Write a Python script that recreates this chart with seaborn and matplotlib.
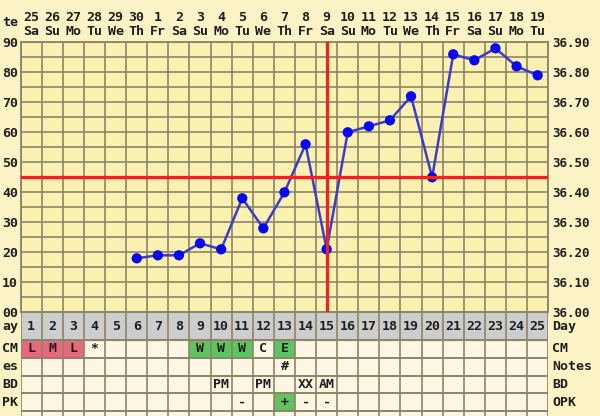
import numpy as np
import pandas as pd
import matplotlib
matplotlib.use('Agg')
import matplotlib.pyplot as plt
from matplotlib.transforms import blended_transform_factory
import seaborn as sns

# Chart data
cycle_days = list(range(1, 26))
dates = [25, 26, 27, 28, 29, 30, 1, 2, 3, 4, 5, 6, 7, 8, 9, 10, 11, 12, 13, 14, 15, 16, 17, 18, 19]
weekdays = ['Sa', 'Su', 'Mo', 'Tu', 'We', 'Th', 'Fr', 'Sa', 'Su', 'Mo', 'Tu', 'We', 'Th',
            'Fr', 'Sa', 'Su', 'Mo', 'Tu', 'We', 'Th', 'Fr', 'Sa', 'Su', 'Mo', 'Tu']
temps = [np.nan, np.nan, np.nan, np.nan, np.nan,
         36.18, 36.19, 36.19, 36.23, 36.21, 36.38, 36.28, 36.40, 36.56, 36.21,
         36.60, 36.62, 36.64, 36.72, 36.45, 36.86, 36.84, 36.88, 36.82, 36.79]
coverline = 36.45
ovulation_day = 15
temp_ticks = [36.00, 36.10, 36.20, 36.30, 36.40, 36.50, 36.60, 36.70, 36.80, 36.90]

cm_days = [1, 2, 3, 4, 9, 10, 11, 12, 13]
cm_marks = ['L', 'M', 'L', '*', 'W', 'W', 'W', 'C', 'E']
notes_days = [13]
notes_marks = ['#']
bd_days = [10, 12, 14, 15]
bd_marks = ['PM', 'PM', 'XX', 'AM']
opk_days = [11, 13, 14, 15]
opk_marks = ['-', '+', '-', '-']

row_names = ['Day', 'CM', 'Notes', 'BD', 'OPK']
# the left edge of the chart is cropped, only the ends of these labels show
row_names_left = ['ay', 'CM', 'es', 'BD', 'PK']

# colours
bg = '#FBF3C6'
plot_bg = '#FAF0B0'
cell_bg = '#FDF6E2'
grid_col = '#8C8468'
txt = '#1E1E1E'
pink = '#E8687E'
green = '#62C262'
mark_colors = {'L': pink, 'M': pink, 'W': green, 'E': green, '+': green}

plt.rcParams['font.family'] = ['DejaVu Sans Mono']
plt.rcParams['font.weight'] = 'bold'
plt.rcParams['font.size'] = 9.5

df = pd.DataFrame({'day': cycle_days, 'temp': temps})

W, H = 600, 416
fig = plt.figure(figsize=(W / 100, H / 100), dpi=100, facecolor=bg)

left, right, top, bottom = 20.7, 548.2, 42.3, 312.3
ax = fig.add_axes([left / W, 1 - bottom / H, (right - left) / W, (bottom - top) / H])
ax.set_facecolor(plot_bg)

sns.lineplot(data=df, x='day', y='temp', ax=ax, color='#3C3CC8', lw=1.8, zorder=3)
sns.scatterplot(data=df, x='day', y='temp', ax=ax, color='#0808F0', s=55,
                edgecolor='none', zorder=3)

ax.axhline(coverline, color='#EE2222', lw=2.3, zorder=4)
ax.axvline(ovulation_day, color='#EE2222', lw=2.3, zorder=4)

ax.set_xlim(0.5, 25.5)
ax.set_ylim(36.0, 36.9)
ax.set_xticks(cycle_days)
ax.set_xticks(np.arange(0.5, 26, 1), minor=True)
ax.set_xticklabels([f'{d}\n{w}' for d, w in zip(dates, weekdays)], color=txt, linespacing=1.1)
ax.xaxis.tick_top()
ax.set_yticks(temp_ticks)
ax.set_yticks(np.arange(36.0, 36.91, 0.05), minor=True)
ax.set_yticklabels([f'{v:.2f}'[-2:] for v in temp_ticks], color=txt)
ax.tick_params(axis='x', which='both', length=0, pad=3)
ax.tick_params(axis='y', which='both', length=0, pad=2)
ax.grid(True, axis='x', which='minor', color=grid_col, lw=1.2)
ax.grid(True, axis='y', which='both', color=grid_col, lw=1.2)
ax.grid(False, axis='x', which='major')
ax.set_axisbelow(True)
ax.set_xlabel('')
ax.set_ylabel('')
for s in ax.spines.values():
    s.set_color(grid_col)
    s.set_linewidth(1.3)

ax2 = ax.twinx()
ax2.set_ylim(36.0, 36.9)
ax2.set_yticks(temp_ticks)
ax2.set_yticklabels([f'{v:.2f}' for v in temp_ticks], color=txt, fontsize=9)
ax2.tick_params(axis='y', length=0, pad=3)
for s in ax2.spines.values():
    s.set_visible(False)

fig.text(18 / W, 1 - 22 / H, 'te', ha='right', va='center', color=txt)

# table below the chart
row_edges = [0, 27.7, 45.4, 63.4, 81.0, 98.7, 116.4]
tab_h = H - bottom
tax = fig.add_axes([left / W, 0, (right - left) / W, tab_h / H])
tax.set_facecolor(cell_bg)
tax.set_xlim(0.5, 25.5)
tax.set_ylim(tab_h, 0)
tax.axhspan(row_edges[0], row_edges[1], color='#CDCDCD', zorder=0)
tax.set_xticks([])
tax.set_yticks([])
for s in tax.spines.values():
    s.set_visible(False)


def cell_row(days, marks, r):
    y0, y1 = row_edges[r], row_edges[r + 1]
    for d, m in zip(days, marks):
        if m in mark_colors:
            tax.bar(d, y1 - y0, bottom=y0, width=1, color=mark_colors[m], zorder=1)
        tax.text(d, (y0 + y1) / 2, m, ha='center', va='center', color=txt, zorder=3)


cell_row(cycle_days, [str(d) for d in cycle_days], 0)
cell_row(cm_days, cm_marks, 1)
cell_row(notes_days, notes_marks, 2)
cell_row(bd_days, bd_marks, 3)
cell_row(opk_days, opk_marks, 4)

tax.vlines(np.arange(0.5, 26, 1), 0, tab_h, color=grid_col, lw=1.2, zorder=2)
tax.hlines(row_edges, 0.5, 25.5, color=grid_col, lw=1.4, zorder=2)

tr = blended_transform_factory(tax.transAxes, tax.transData)
for i, name in enumerate(row_names):
    yc = (row_edges[i] + row_edges[i + 1]) / 2
    tax.annotate(row_names_left[i], (0, yc), xycoords=tr, xytext=(-2, 0),
                 textcoords='offset points', ha='right', va='center', color=txt,
                 annotation_clip=False)
    tax.annotate(name, (1, yc), xycoords=tr, xytext=(3, 0), textcoords='offset points',
                 ha='left', va='center', color=txt, annotation_clip=False)

fig.savefig('out.png', dpi=100, facecolor=bg)
